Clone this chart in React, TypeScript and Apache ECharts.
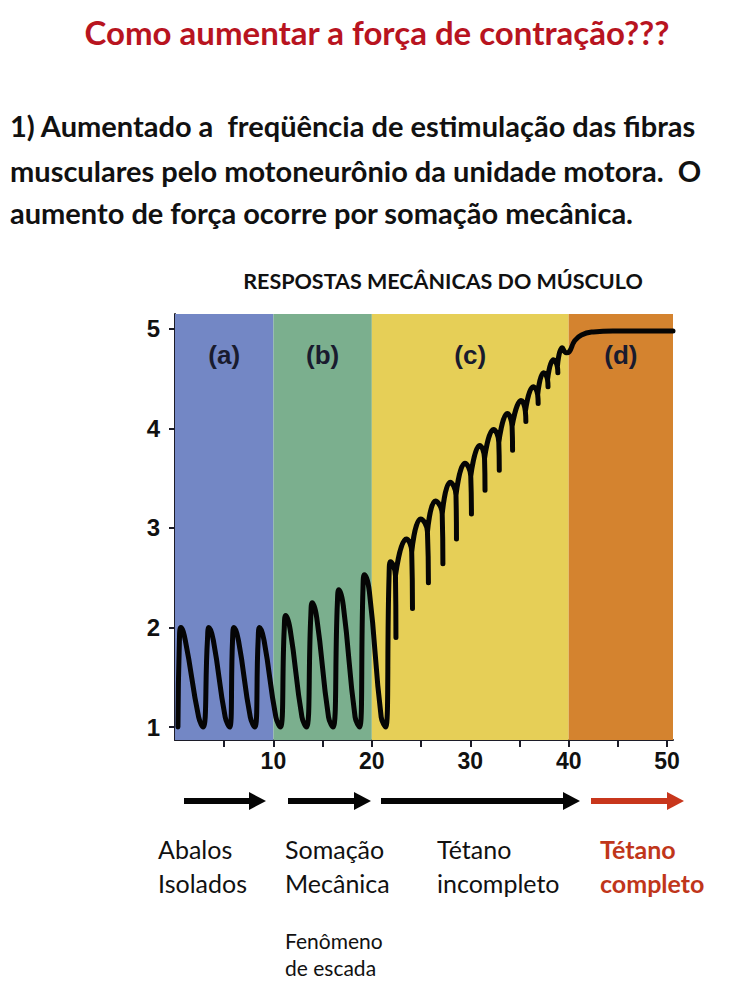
import React, { useEffect, useRef } from 'react';
import * as echarts from 'echarts';

// ---------- data ----------
const phaseLabels = ['(a)', '(b)', '(c)', '(d)'];
const phaseStarts = [0, 10, 20, 40];
const phaseEnds = [10, 20, 40, 50.6];
const xTickValues = [5, 10, 15, 20, 25, 30, 35, 40, 45, 50];
const xLabelValues = [10, 20, 30, 40, 50];
const yTickValues = [1, 2, 3, 4, 5];

// isolated twitches (a), mechanical summation (b) and first arch of (c)
const twitchTrace: number[][] = [
  [0.3, 1.0], [0.45, 1.88], [0.6, 2.0], [1.05, 1.87], [2.4, 1.1], [2.85, 1.0],
  [3.3, 1.88], [3.45, 2.0], [3.9, 1.87], [5.1, 1.1], [5.55, 1.0],
  [5.85, 1.88], [6.0, 2.0], [6.45, 1.87], [7.65, 1.1], [8.1, 1.0],
  [8.45, 1.88], [8.6, 2.0], [9.05, 1.87], [10.25, 1.1], [10.7, 1.0],
  [11.1, 1.99], [11.25, 2.12], [11.7, 1.98], [12.9, 1.1], [13.35, 1.0],
  [13.8, 2.12], [13.95, 2.25], [14.4, 2.1], [15.6, 1.1], [16.05, 1.0],
  [16.5, 2.25], [16.65, 2.38], [17.1, 2.22], [18.3, 1.1], [18.75, 1.0],
  [19.1, 2.39], [19.25, 2.53], [19.75, 2.36], [20.95, 1.1], [21.4, 1.0],
  [21.75, 2.52], [21.9, 2.66], [22.4, 2.52], [22.45, 1.9],
];

// incomplete tetanus (c): each arch = junction, peak, right leg, tail end
const tetanusArches: number[][][] = [
  [[22.4, 2.52], [23.5, 2.89], [24.05, 2.76], [24.13, 2.19]],
  [[24.05, 2.76], [24.95, 3.09], [25.65, 2.96], [25.75, 2.45]],
  [[25.65, 2.96], [26.45, 3.27], [27.15, 3.14], [27.22, 2.64]],
  [[27.15, 3.14], [27.95, 3.46], [28.55, 3.33], [28.6, 2.89]],
  [[28.55, 3.33], [29.45, 3.65], [30.05, 3.52], [30.12, 3.14]],
  [[30.05, 3.52], [30.95, 3.83], [31.45, 3.7], [31.5, 3.38]],
  [[31.45, 3.7], [32.35, 3.99], [32.9, 3.86], [32.95, 3.58]],
  [[32.9, 3.86], [33.75, 4.15], [34.25, 4.02], [34.3, 3.78]],
  [[34.25, 4.02], [35.15, 4.28], [35.6, 4.17], [35.65, 4.07]],
  [[35.6, 4.17], [36.4, 4.42], [36.85, 4.34], [36.9, 4.25]],
  [[36.85, 4.34], [37.45, 4.56], [37.85, 4.49], [37.9, 4.42]],
  [[37.85, 4.49], [38.45, 4.69], [38.85, 4.62], [38.9, 4.56]],
];

// complete tetanus (d)
const plateauTrace: number[][] = [
  [38.85, 4.62], [39.35, 4.81], [39.75, 4.76], [40.05, 4.77], [40.6, 4.88],
  [41.3, 4.94], [42.5, 4.97], [44.5, 4.98], [50.6, 4.98],
];

// ---------- styles ----------
const bandColors = ['#7387C5', '#7BAF8E', '#E6CF57', '#D4832F'];
const CAL = 'Lato, "Open Sans", sans-serif';
const HEL = '"Liberation Sans", Arial, sans-serif';

function buildTrace(): (number[] | null)[] {
  const out: (number[] | null)[] = [...twitchTrace];
  tetanusArches.forEach((arch) => {
    out.push(null);
    arch.forEach((p) => out.push(p));
  });
  out.push(null);
  plateauTrace.forEach((p) => out.push(p));
  return out;
}

function arrow(x1: number, x2: number, y: number, color: string) {
  return {
    type: 'group',
    children: [
      { type: 'line', shape: { x1, y1: y, x2: x2 - 12, y2: y }, style: { stroke: color, lineWidth: 6 } },
      { type: 'polygon', shape: { points: [[x2 - 17, y - 9], [x2, y], [x2 - 17, y + 9]] }, style: { fill: color } },
    ],
  };
}

function txt(x: number, y: number, text: string, font: string, fill: string, align = 'left') {
  return {
    type: 'text',
    x,
    y,
    style: { text, font, fill, textAlign: align, textVerticalAlign: 'middle' },
  };
}

export default function App() {
  const ref = useRef<HTMLDivElement>(null);
  useEffect(() => {
    const chart = echarts.init(ref.current!, null, { renderer: 'svg' });
    const option: any = {
      animation: false,
      backgroundColor: '#ffffff',
      grid: { left: 175, top: 314, right: 81, bottom: 244, containLabel: false },
      xAxis: {
        type: 'value',
        min: 0,
        max: 50.6,
        axisLine: { show: true, lineStyle: { color: '#1c1c28', width: 2 } },
        axisTick: { show: true, length: 7, customValues: xTickValues, lineStyle: { color: '#1c1c28', width: 2 } },
        axisLabel: {
          show: true,
          customValues: xLabelValues,
          margin: 9,
          color: '#111',
          fontSize: 23,
          fontWeight: 'bold',
          fontFamily: HEL,
        },
        splitLine: { show: false },
      },
      yAxis: {
        type: 'value',
        min: 0.87,
        max: 5.15,
        axisLine: { show: true, lineStyle: { color: '#1c1c28', width: 2 } },
        axisTick: { show: true, length: 6, customValues: yTickValues, lineStyle: { color: '#1c1c28', width: 2 } },
        axisLabel: {
          show: true,
          customValues: yTickValues,
          margin: 15,
          color: '#111',
          fontSize: 24,
          fontWeight: 'bold',
          fontFamily: HEL,
        },
        splitLine: { show: false },
      },
      series: [
        {
          type: 'line',
          data: [],
          z: 1,
          silent: true,
          markArea: {
            silent: true,
            label: {
              show: true,
              position: 'insideTop',
              distance: 28,
              formatter: '{b}',
              color: '#191b2e',
              fontSize: 26,
              fontWeight: 'bold',
              fontFamily: HEL,
            },
            data: phaseStarts.map((s, i) => [
              { name: phaseLabels[i], xAxis: s, itemStyle: { color: bandColors[i], opacity: 1 } },
              { xAxis: phaseEnds[i] },
            ]),
          },
        },
        {
          type: 'line',
          data: buildTrace(),
          z: 5,
          smooth: 0.5,
          symbol: 'none',
          showSymbol: false,
          connectNulls: false,
          lineStyle: { color: '#050505', width: 5, cap: 'round', join: 'round' },
        },
      ],
      graphic: [
        txt(377, 32, 'Como aumentar a força de contração???', `bold 33px ${CAL}`, '#B8141F', 'center'),
        txt(10, 125, '1) Aumentado a  freqüência de estimulação das fibras', `bold 29px ${CAL}`, '#111'),
        txt(10, 170, 'musculares pelo motoneurônio da unidade motora.  O', `bold 29px ${CAL}`, '#111'),
        txt(10, 212, 'aumento de força ocorre por somação mecânica.', `bold 29px ${CAL}`, '#111'),
        txt(443, 281, 'RESPOSTAS MECÂNICAS DO MÚSCULO', `bold 21.5px ${CAL}`, '#111', 'center'),
        arrow(184, 266, 801, '#050505'),
        arrow(288, 371, 801, '#050505'),
        arrow(381, 580, 801, '#050505'),
        arrow(591, 684, 801, '#C8361C'),
        txt(158, 849, 'Abalos', `25px ${CAL}`, '#111'),
        txt(158, 883, 'Isolados', `25px ${CAL}`, '#111'),
        txt(285, 849, 'Somação', `25px ${CAL}`, '#111'),
        txt(285, 883, 'Mecânica', `25px ${CAL}`, '#111'),
        txt(437, 849, 'Tétano', `25px ${CAL}`, '#111'),
        txt(437, 883, 'incompleto', `25px ${CAL}`, '#111'),
        txt(600, 849, 'Tétano', `bold 25px ${CAL}`, '#C0361A'),
        txt(600, 883, 'completo', `bold 25px ${CAL}`, '#C0361A'),
        txt(285, 940, 'Fenômeno', `21px ${CAL}`, '#111'),
        txt(285, 967, 'de escada', `21px ${CAL}`, '#111'),
      ],
    };
    chart.setOption(option);
    return () => chart.dispose();
  }, []);
  return (
    <div
      ref={ref}
      style={{ position: 'absolute', left: 0, top: 0, width: 754, height: 984, background: '#fff' }}
    />
  );
}
